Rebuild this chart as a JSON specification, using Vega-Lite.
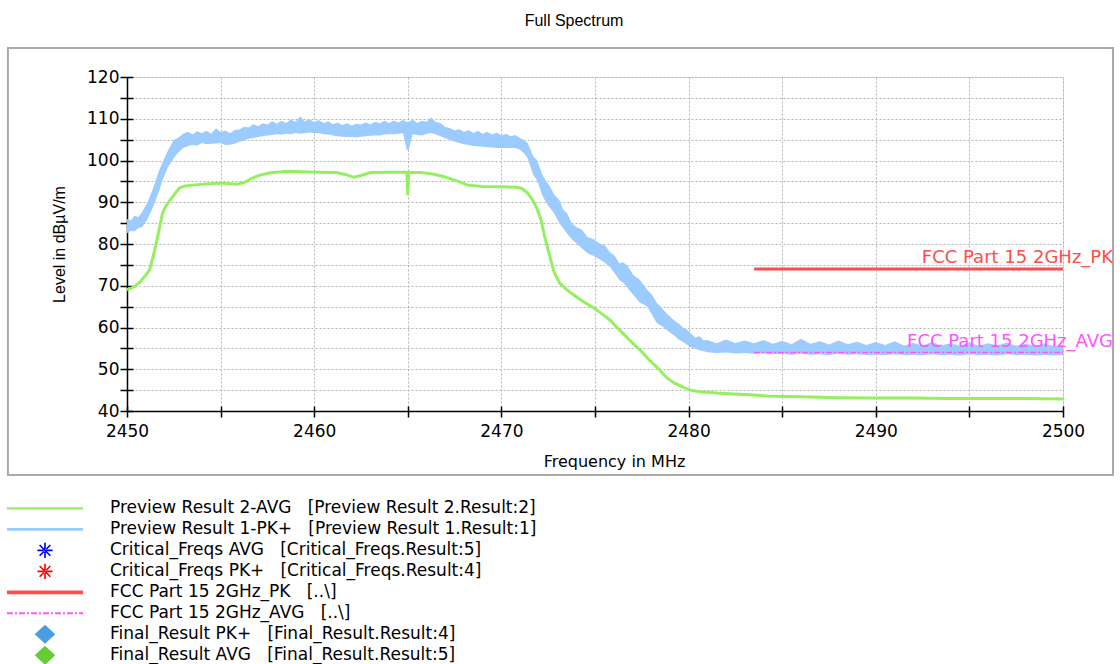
{
  "$schema": "https://vega.github.io/schema/vega-lite/v6.json",
  "width": 936,
  "height": 334,
  "autosize": {"type": "none"},
  "padding": {"left": 127, "top": 77, "right": 57, "bottom": 253},
  "background": "white",
  "title": {"text": "Full Spectrum", "font": "Liberation Sans", "fontSize": 16, "fontWeight": "normal", "color": "black", "anchor": "middle", "dx": -21, "offset": 18},
  "resolve": {"axis": {"x": "independent", "y": "independent"}},
  "datasets": {
    "pk": [
      {"f": 2450.0, "lo": 82.6, "hi": 86.0},
      {"f": 2450.2, "lo": 83.2, "hi": 85.6},
      {"f": 2450.4, "lo": 83.0, "hi": 86.8},
      {"f": 2450.6, "lo": 83.8, "hi": 86.4},
      {"f": 2450.8, "lo": 84.0, "hi": 87.6},
      {"f": 2451.1, "lo": 86.0, "hi": 90.0},
      {"f": 2451.4, "lo": 88.9, "hi": 93.4},
      {"f": 2451.7, "lo": 92.5, "hi": 97.5},
      {"f": 2451.9, "lo": 95.3, "hi": 99.6},
      {"f": 2452.2, "lo": 98.5, "hi": 102.5},
      {"f": 2452.5, "lo": 100.6, "hi": 104.9},
      {"f": 2452.75, "lo": 102.0, "hi": 105.5},
      {"f": 2453.0, "lo": 103.0, "hi": 106.4},
      {"f": 2453.25, "lo": 103.4, "hi": 106.9},
      {"f": 2453.5, "lo": 103.7, "hi": 106.2},
      {"f": 2453.75, "lo": 103.6, "hi": 107.0},
      {"f": 2454.0, "lo": 104.2, "hi": 106.5},
      {"f": 2454.25, "lo": 103.9, "hi": 107.1},
      {"f": 2454.5, "lo": 104.0, "hi": 106.4},
      {"f": 2454.75, "lo": 104.1, "hi": 107.7},
      {"f": 2455.0, "lo": 104.2, "hi": 106.8},
      {"f": 2455.25, "lo": 103.7, "hi": 107.2},
      {"f": 2455.5, "lo": 103.8, "hi": 106.5},
      {"f": 2455.75, "lo": 104.0, "hi": 107.3},
      {"f": 2456.0, "lo": 104.5, "hi": 107.4},
      {"f": 2456.25, "lo": 104.8, "hi": 108.1},
      {"f": 2456.5, "lo": 105.2, "hi": 107.9},
      {"f": 2456.75, "lo": 105.4, "hi": 108.7},
      {"f": 2457.0, "lo": 105.6, "hi": 108.2},
      {"f": 2457.25, "lo": 105.8, "hi": 108.9},
      {"f": 2457.5, "lo": 106.0, "hi": 108.6},
      {"f": 2457.75, "lo": 106.1, "hi": 109.4},
      {"f": 2458.0, "lo": 106.3, "hi": 108.8},
      {"f": 2458.25, "lo": 106.2, "hi": 109.5},
      {"f": 2458.5, "lo": 106.4, "hi": 109.0},
      {"f": 2458.75, "lo": 106.3, "hi": 109.8},
      {"f": 2459.0, "lo": 106.6, "hi": 109.3},
      {"f": 2459.25, "lo": 106.4, "hi": 110.6},
      {"f": 2459.5, "lo": 106.5, "hi": 109.4},
      {"f": 2459.75, "lo": 106.7, "hi": 109.9},
      {"f": 2460.0, "lo": 106.6, "hi": 109.2},
      {"f": 2460.25, "lo": 106.5, "hi": 109.7},
      {"f": 2460.5, "lo": 106.3, "hi": 109.0},
      {"f": 2460.75, "lo": 106.2, "hi": 109.4},
      {"f": 2461.0, "lo": 106.0, "hi": 108.7},
      {"f": 2461.25, "lo": 105.8, "hi": 109.1},
      {"f": 2461.5, "lo": 105.7, "hi": 108.5},
      {"f": 2461.75, "lo": 105.6, "hi": 108.9},
      {"f": 2462.0, "lo": 105.6, "hi": 108.4},
      {"f": 2462.25, "lo": 105.5, "hi": 108.8},
      {"f": 2462.5, "lo": 105.7, "hi": 108.6},
      {"f": 2462.75, "lo": 105.8, "hi": 109.1},
      {"f": 2463.0, "lo": 105.9, "hi": 108.7},
      {"f": 2463.25, "lo": 106.0, "hi": 109.3},
      {"f": 2463.5, "lo": 106.0, "hi": 108.9},
      {"f": 2463.75, "lo": 106.2, "hi": 109.5},
      {"f": 2464.0, "lo": 106.3, "hi": 109.0},
      {"f": 2464.25, "lo": 106.3, "hi": 109.6},
      {"f": 2464.5, "lo": 106.4, "hi": 109.1},
      {"f": 2464.75, "lo": 106.5, "hi": 109.7},
      {"f": 2464.95, "lo": 102.5, "hi": 109.2},
      {"f": 2465.05, "lo": 102.5, "hi": 109.2},
      {"f": 2465.25, "lo": 106.3, "hi": 109.8},
      {"f": 2465.5, "lo": 106.1, "hi": 109.0},
      {"f": 2465.75, "lo": 106.0, "hi": 109.5},
      {"f": 2466.0, "lo": 106.4, "hi": 109.3},
      {"f": 2466.25, "lo": 106.6, "hi": 110.3},
      {"f": 2466.5, "lo": 106.2, "hi": 109.2},
      {"f": 2466.75, "lo": 105.8, "hi": 109.0},
      {"f": 2467.0, "lo": 105.3, "hi": 108.0},
      {"f": 2467.25, "lo": 104.9, "hi": 107.8},
      {"f": 2467.5, "lo": 104.5, "hi": 107.2},
      {"f": 2467.75, "lo": 104.2, "hi": 107.5},
      {"f": 2468.0, "lo": 103.9, "hi": 106.9},
      {"f": 2468.25, "lo": 103.7, "hi": 107.3},
      {"f": 2468.5, "lo": 103.5, "hi": 106.6},
      {"f": 2468.75, "lo": 103.4, "hi": 107.1},
      {"f": 2469.0, "lo": 103.3, "hi": 106.4},
      {"f": 2469.25, "lo": 103.2, "hi": 106.9},
      {"f": 2469.5, "lo": 103.1, "hi": 106.2},
      {"f": 2469.75, "lo": 103.0, "hi": 106.7},
      {"f": 2470.0, "lo": 103.0, "hi": 106.0},
      {"f": 2470.25, "lo": 103.0, "hi": 106.4},
      {"f": 2470.5, "lo": 103.0, "hi": 105.8},
      {"f": 2470.75, "lo": 103.0, "hi": 106.1},
      {"f": 2471.0, "lo": 102.6, "hi": 105.4},
      {"f": 2471.2, "lo": 101.8, "hi": 104.9},
      {"f": 2471.4, "lo": 100.6, "hi": 104.2},
      {"f": 2471.7, "lo": 96.5, "hi": 101.0},
      {"f": 2471.9, "lo": 95.3, "hi": 100.1},
      {"f": 2472.2, "lo": 91.5, "hi": 96.5},
      {"f": 2472.4, "lo": 89.8, "hi": 95.0},
      {"f": 2472.6, "lo": 88.6, "hi": 93.8},
      {"f": 2472.8, "lo": 87.5, "hi": 92.0},
      {"f": 2473.1, "lo": 85.0, "hi": 90.5},
      {"f": 2473.3, "lo": 83.8, "hi": 88.2},
      {"f": 2473.5, "lo": 82.6, "hi": 87.4},
      {"f": 2473.75, "lo": 81.2, "hi": 85.0},
      {"f": 2474.0, "lo": 80.2, "hi": 84.1},
      {"f": 2474.3, "lo": 79.0, "hi": 83.4},
      {"f": 2474.6, "lo": 77.8, "hi": 81.7},
      {"f": 2474.9, "lo": 77.2, "hi": 81.2},
      {"f": 2475.3, "lo": 76.2, "hi": 80.0},
      {"f": 2475.55, "lo": 75.4, "hi": 79.6},
      {"f": 2475.8, "lo": 74.5, "hi": 78.0},
      {"f": 2476.05, "lo": 73.0, "hi": 77.2},
      {"f": 2476.3, "lo": 71.4, "hi": 75.4},
      {"f": 2476.5, "lo": 70.8, "hi": 75.6},
      {"f": 2476.7, "lo": 69.7, "hi": 75.0},
      {"f": 2477.05, "lo": 67.8, "hi": 72.6},
      {"f": 2477.4, "lo": 65.9, "hi": 71.4},
      {"f": 2477.6, "lo": 65.5, "hi": 70.2},
      {"f": 2477.8, "lo": 65.0, "hi": 69.0},
      {"f": 2478.05, "lo": 63.0, "hi": 67.8},
      {"f": 2478.3, "lo": 61.1, "hi": 65.9},
      {"f": 2478.55, "lo": 60.4, "hi": 64.8},
      {"f": 2478.8, "lo": 59.5, "hi": 63.5},
      {"f": 2479.0, "lo": 58.8, "hi": 62.7},
      {"f": 2479.2, "lo": 58.2, "hi": 61.8},
      {"f": 2479.45, "lo": 57.2, "hi": 61.0},
      {"f": 2479.7, "lo": 56.5, "hi": 60.0},
      {"f": 2479.9, "lo": 55.9, "hi": 59.5},
      {"f": 2480.1, "lo": 55.3, "hi": 58.7},
      {"f": 2480.35, "lo": 54.9, "hi": 57.6},
      {"f": 2480.6, "lo": 54.5, "hi": 57.9},
      {"f": 2480.8, "lo": 54.3, "hi": 56.9},
      {"f": 2481.0, "lo": 54.1, "hi": 57.0},
      {"f": 2481.5, "lo": 53.9, "hi": 56.2},
      {"f": 2482.0, "lo": 54.0, "hi": 57.1},
      {"f": 2482.5, "lo": 53.8, "hi": 56.3},
      {"f": 2483.0, "lo": 53.9, "hi": 56.9},
      {"f": 2483.5, "lo": 53.7, "hi": 56.2},
      {"f": 2484.0, "lo": 53.8, "hi": 57.0},
      {"f": 2484.5, "lo": 53.6, "hi": 56.1},
      {"f": 2485.0, "lo": 53.7, "hi": 56.8},
      {"f": 2485.5, "lo": 53.5, "hi": 56.0},
      {"f": 2486.0, "lo": 53.7, "hi": 57.3},
      {"f": 2486.5, "lo": 53.5, "hi": 56.1},
      {"f": 2487.0, "lo": 53.6, "hi": 56.7},
      {"f": 2487.5, "lo": 53.4, "hi": 55.9},
      {"f": 2488.0, "lo": 53.7, "hi": 56.9},
      {"f": 2488.5, "lo": 53.5, "hi": 56.0},
      {"f": 2489.0, "lo": 53.6, "hi": 56.6},
      {"f": 2489.5, "lo": 53.4, "hi": 55.8},
      {"f": 2490.0, "lo": 53.5, "hi": 56.5},
      {"f": 2490.5, "lo": 53.4, "hi": 55.8},
      {"f": 2491.0, "lo": 53.6, "hi": 56.7},
      {"f": 2491.5, "lo": 53.4, "hi": 55.7},
      {"f": 2492.0, "lo": 53.5, "hi": 56.3},
      {"f": 2492.5, "lo": 53.4, "hi": 55.7},
      {"f": 2493.0, "lo": 53.6, "hi": 56.5},
      {"f": 2493.5, "lo": 53.4, "hi": 55.7},
      {"f": 2494.0, "lo": 53.5, "hi": 56.2},
      {"f": 2494.5, "lo": 53.3, "hi": 55.6},
      {"f": 2495.0, "lo": 53.6, "hi": 56.4},
      {"f": 2495.5, "lo": 53.4, "hi": 55.6},
      {"f": 2496.0, "lo": 53.5, "hi": 56.2},
      {"f": 2496.5, "lo": 53.3, "hi": 55.7},
      {"f": 2497.0, "lo": 53.6, "hi": 56.4},
      {"f": 2497.5, "lo": 53.4, "hi": 55.6},
      {"f": 2498.0, "lo": 53.5, "hi": 56.1},
      {"f": 2498.5, "lo": 53.3, "hi": 55.6},
      {"f": 2499.0, "lo": 53.4, "hi": 56.2},
      {"f": 2499.5, "lo": 53.3, "hi": 55.5},
      {"f": 2500.0, "lo": 53.4, "hi": 55.9}
    ],
    "avg": [
      {"f": 2450.0, "v": 69.0}, {"f": 2450.4, "v": 69.8}, {"f": 2450.7, "v": 70.9},
      {"f": 2451.0, "v": 72.5}, {"f": 2451.2, "v": 73.8}, {"f": 2451.4, "v": 77.0},
      {"f": 2451.6, "v": 81.0}, {"f": 2451.9, "v": 87.4}, {"f": 2452.1, "v": 89.3},
      {"f": 2452.3, "v": 90.5}, {"f": 2452.6, "v": 92.3}, {"f": 2452.8, "v": 93.4},
      {"f": 2453.1, "v": 93.9}, {"f": 2453.5, "v": 94.1}, {"f": 2454.2, "v": 94.4},
      {"f": 2455.0, "v": 94.6}, {"f": 2455.9, "v": 94.3}, {"f": 2456.3, "v": 94.8},
      {"f": 2456.7, "v": 95.8}, {"f": 2457.1, "v": 96.5}, {"f": 2457.6, "v": 97.0},
      {"f": 2458.5, "v": 97.4}, {"f": 2459.3, "v": 97.3}, {"f": 2460.3, "v": 97.2},
      {"f": 2461.2, "v": 97.1}, {"f": 2461.7, "v": 96.6}, {"f": 2462.1, "v": 96.0},
      {"f": 2462.5, "v": 96.4}, {"f": 2463.0, "v": 97.1}, {"f": 2464.0, "v": 97.2},
      {"f": 2464.95, "v": 97.2}, {"f": 2465.0, "v": 91.7}, {"f": 2465.05, "v": 97.2},
      {"f": 2465.7, "v": 97.1}, {"f": 2466.3, "v": 96.8}, {"f": 2466.8, "v": 96.3},
      {"f": 2467.3, "v": 95.6}, {"f": 2467.8, "v": 94.8}, {"f": 2468.2, "v": 94.1},
      {"f": 2469.0, "v": 93.8}, {"f": 2469.9, "v": 93.7}, {"f": 2470.8, "v": 93.6},
      {"f": 2471.1, "v": 93.3}, {"f": 2471.4, "v": 92.2}, {"f": 2471.7, "v": 90.3},
      {"f": 2471.9, "v": 88.5}, {"f": 2472.1, "v": 86.0}, {"f": 2472.3, "v": 82.0},
      {"f": 2472.5, "v": 78.5}, {"f": 2472.8, "v": 73.5}, {"f": 2473.1, "v": 70.7},
      {"f": 2473.5, "v": 69.0}, {"f": 2473.8, "v": 68.0}, {"f": 2474.4, "v": 66.1},
      {"f": 2474.9, "v": 64.8}, {"f": 2475.3, "v": 63.5}, {"f": 2475.8, "v": 61.8},
      {"f": 2476.2, "v": 59.9}, {"f": 2476.6, "v": 58.1}, {"f": 2477.0, "v": 56.3},
      {"f": 2477.5, "v": 54.2}, {"f": 2477.9, "v": 52.2}, {"f": 2478.4, "v": 50.1},
      {"f": 2478.8, "v": 48.1}, {"f": 2479.2, "v": 46.8}, {"f": 2479.7, "v": 45.7},
      {"f": 2480.1, "v": 45.0}, {"f": 2480.6, "v": 44.6}, {"f": 2481.5, "v": 44.3},
      {"f": 2482.4, "v": 44.1}, {"f": 2483.3, "v": 43.9}, {"f": 2484.2, "v": 43.6},
      {"f": 2485.0, "v": 43.5}, {"f": 2486.0, "v": 43.4}, {"f": 2488.0, "v": 43.2},
      {"f": 2490.0, "v": 43.1}, {"f": 2492.0, "v": 43.1}, {"f": 2494.0, "v": 43.0},
      {"f": 2496.0, "v": 43.0}, {"f": 2498.0, "v": 43.0}, {"f": 2500.0, "v": 42.9}
    ],
    "limits": [
      {"f": 2483.5, "f2": 2500, "v": 74, "series": "FCC Part 15 2GHz_PK\u00a0\u00a0\u00a0[..\\]", "label": "FCC Part 15 2GHz_PK"},
      {"f": 2483.5, "f2": 2500, "v": 54, "series": "FCC Part 15 2GHz_AVG\u00a0\u00a0\u00a0[..\\]", "label": "FCC Part 15 2GHz_AVG"}
    ],
    "frame": [
      {"x1": 2443.64, "x2": 2502.67, "y1": 24.67, "y2": 126.95}
    ]
  },
  "encoding": {
    "color": {
      "field": "series",
      "type": "nominal",
      "scale": {
        "domain": [
          "Preview Result 2-AVG\u00a0\u00a0\u00a0[Preview Result 2.Result:2]",
          "Preview Result 1-PK+\u00a0\u00a0\u00a0[Preview Result 1.Result:1]",
          "Critical_Freqs AVG\u00a0\u00a0\u00a0[Critical_Freqs.Result:5]",
          "Critical_Freqs PK+\u00a0\u00a0\u00a0[Critical_Freqs.Result:4]",
          "FCC Part 15 2GHz_PK\u00a0\u00a0\u00a0[..\\]",
          "FCC Part 15 2GHz_AVG\u00a0\u00a0\u00a0[..\\]",
          "Final_Result PK+\u00a0\u00a0\u00a0[Final_Result.Result:4]",
          "Final_Result AVG\u00a0\u00a0\u00a0[Final_Result.Result:5]"
        ],
        "range": ["#94f060", "#9ccbff", "#0000ff", "#ff0000", "#ff4d4d", "#ff55ff", "#4a9de0", "#66cc33"]
      },
      "legend": {
        "title": null,
        "orient": "none",
        "legendX": -120,
        "legendY": 421,
        "direction": "vertical",
        "padding": 0,
        "rowPadding": 0,
        "clipHeight": 20.7,
        "symbolSize": 5776,
        "symbolStrokeWidth": 0,
        "labelOffset": 27,
        "labelLimit": 1000,
        "labelFont": "DejaVu Sans",
        "labelFontSize": 17,
        "labelColor": "black",
        "encode": {
          "symbols": {
            "update": {
              "shape": {"signal": "['M-1,-0.028L1,-0.028L1,0.028L-1,0.028Z','M-1,-0.038L1,-0.038L1,0.038L-1,0.038Z','M-0.2,-0.022L0.2,-0.022L0.2,0.022L-0.2,0.022ZM-0.022,-0.2L0.022,-0.2L0.022,0.2L-0.022,0.2ZM-0.126,-0.157L0.157,0.126L0.126,0.157L-0.157,-0.126ZM-0.126,0.157L0.157,-0.126L0.126,-0.157L-0.157,0.126Z','M-0.2,-0.022L0.2,-0.022L0.2,0.022L-0.2,0.022ZM-0.022,-0.2L0.022,-0.2L0.022,0.2L-0.022,0.2ZM-0.126,-0.157L0.157,0.126L0.126,0.157L-0.157,-0.126ZM-0.126,0.157L0.157,-0.126L0.126,-0.157L-0.157,0.126Z','M-1,-0.05L1,-0.05L1,0.05L-1,0.05Z','M-1,-0.026L-0.842,-0.026L-0.842,0.026L-1,0.026ZM-0.789,-0.026L-0.737,-0.026L-0.737,0.026L-0.789,0.026ZM-0.684,-0.026L-0.526,-0.026L-0.526,0.026L-0.684,0.026ZM-0.474,-0.026L-0.421,-0.026L-0.421,0.026L-0.474,0.026ZM-0.368,-0.026L-0.211,-0.026L-0.211,0.026L-0.368,0.026ZM-0.158,-0.026L-0.105,-0.026L-0.105,0.026L-0.158,0.026ZM-0.053,-0.026L0.105,-0.026L0.105,0.026L-0.053,0.026ZM0.158,-0.026L0.211,-0.026L0.211,0.026L0.158,0.026ZM0.263,-0.026L0.421,-0.026L0.421,0.026L0.263,0.026ZM0.474,-0.026L0.526,-0.026L0.526,0.026L0.474,0.026ZM0.579,-0.026L0.737,-0.026L0.737,0.026L0.579,0.026ZM0.789,-0.026L0.842,-0.026L0.842,0.026L0.789,0.026ZM0.895,-0.026L1,-0.026L1,0.026L0.895,0.026Z','M0,-0.25L0.27,0L0,0.25L-0.27,0Z','M0,-0.25L0.27,0L0,0.25L-0.27,0Z'][datum.index]"},
              "stroke": {"value": "transparent"},
              "opacity": {"value": 1}
            }
          }
        }
      }
    }
  },
  "layer": [
    {
      "data": {"name": "frame"},
      "mark": {"type": "rect", "filled": false, "strokeWidth": 2},
      "encoding": {
        "x": {"field": "x1", "type": "quantitative", "axis": null},
        "x2": {"field": "x2"},
        "y": {"field": "y1", "type": "quantitative", "axis": null},
        "y2": {"field": "y2"},
        "color": {"value": "#aaaaaa"}
      }
    },
    {
      "data": {"name": "pk"},
      "transform": [{"calculate": "'Preview Result 1-PK+\u00a0\u00a0\u00a0[Preview Result 1.Result:1]'", "as": "series"}],
      "mark": {"type": "area", "opacity": 1, "interpolate": "linear"},
      "encoding": {
        "x": {
          "field": "f", "type": "quantitative",
          "scale": {"domain": [2450, 2500], "nice": false, "zero": false},
          "axis": {
            "orient": "bottom",
            "values": [2450, 2455, 2460, 2465, 2470, 2475, 2480, 2485, 2490, 2495, 2500],
            "labelExpr": "datum.value % 10 == 0 ? datum.label : ''",
            "format": "d",
            "labelFlush": false,
            "labelOverlap": false,
            "grid": true,
            "gridColor": "#b4b4b4",
            "gridDash": [2, 2],
            "gridWidth": 1,
            "domainColor": "black",
            "domainWidth": 1.5,
            "tickColor": "black",
            "tickWidth": 1.5,
            "tickSize": 6,
            "labelFont": "DejaVu Sans",
            "labelFontSize": 17,
            "labelColor": "black",
            "labelPadding": 6,
            "title": "Frequency in MHz",
            "titleFont": "DejaVu Sans",
            "titleFontSize": 16,
            "titleFontWeight": "normal",
            "titleColor": "black",
            "titleX": 487,
            "titlePadding": 14
          }
        },
        "y": {
          "field": "hi", "type": "quantitative",
          "scale": {"domain": [40, 120], "nice": false, "zero": false},
          "axis": {
            "orient": "left",
            "values": [40, 45, 50, 55, 60, 65, 70, 75, 80, 85, 90, 95, 100, 105, 110, 115, 120],
            "labelExpr": "datum.value % 10 == 0 ? datum.label : ''",
            "format": "d",
            "labelOverlap": false,
            "labelFlush": false,
            "grid": true,
            "gridColor": "#b4b4b4",
            "gridDash": [2, 2],
            "gridWidth": 1,
            "domainColor": "black",
            "domainWidth": 1.5,
            "tickColor": "black",
            "tickWidth": 1.5,
            "tickSize": 7,
            "labelFont": "DejaVu Sans",
            "labelFontSize": 17,
            "labelColor": "black",
            "labelPadding": 1,
            "title": "Level in dBµV/m",
            "titleFont": "Liberation Sans",
            "titleFontSize": 16,
            "titleFontWeight": "normal",
            "titleColor": "black",
            "titleX": -60
          }
        },
        "y2": {"field": "lo"}
      }
    },
    {
      "data": {"name": "avg"},
      "transform": [{"calculate": "'Preview Result 2-AVG\u00a0\u00a0\u00a0[Preview Result 2.Result:2]'", "as": "series"}],
      "mark": {"type": "line", "strokeWidth": 3, "interpolate": "linear"},
      "encoding": {
        "x": {
          "field": "f", "type": "quantitative",
          "axis": {
            "orient": "bottom",
            "values": [2450, 2455, 2460, 2465, 2470, 2475, 2480, 2485, 2490, 2495, 2500],
            "labels": false, "domain": false, "grid": false, "title": null,
            "tickColor": "black", "tickWidth": 1.5, "tickSize": -5
          }
        },
        "y": {
          "field": "v", "type": "quantitative",
          "axis": {
            "orient": "left",
            "values": [40, 45, 50, 55, 60, 65, 70, 75, 80, 85, 90, 95, 100, 105, 110, 115, 120],
            "labels": false, "domain": false, "grid": false, "title": null,
            "tickColor": "black", "tickWidth": 1.5, "tickSize": -6
          }
        }
      }
    },
    {
      "data": {"name": "limits"},
      "transform": [{"filter": "datum.v == 74"}],
      "mark": {"type": "rule", "strokeWidth": 3},
      "encoding": {
        "x": {"field": "f", "type": "quantitative", "axis": null},
        "x2": {"field": "f2"},
        "y": {"field": "v", "type": "quantitative", "axis": null}
      }
    },
    {
      "data": {"name": "limits"},
      "transform": [{"filter": "datum.v == 54"}],
      "mark": {"type": "rule", "strokeWidth": 1.5, "strokeDash": [6, 2, 2, 2]},
      "encoding": {
        "x": {"field": "f", "type": "quantitative", "axis": null},
        "x2": {"field": "f2"},
        "y": {"field": "v", "type": "quantitative", "axis": null}
      }
    },
    {
      "data": {"name": "limits"},
      "mark": {"type": "text", "align": "right", "baseline": "bottom", "dx": 50, "dy": -2, "font": "DejaVu Sans", "fontSize": 18},
      "encoding": {
        "x": {"field": "f2", "type": "quantitative", "axis": null},
        "y": {"field": "v", "type": "quantitative", "axis": null},
        "text": {"field": "label"}
      }
    }
  ]
}
